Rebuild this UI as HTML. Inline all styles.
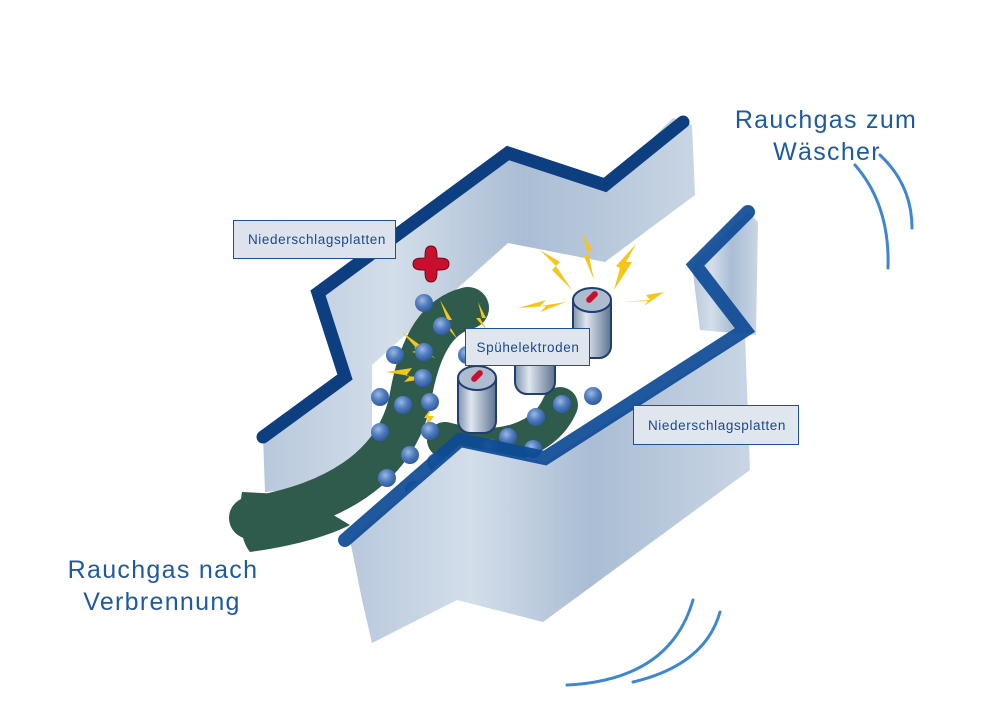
<!DOCTYPE html>
<html><head><meta charset="utf-8"><style>
body{margin:0;background:#fff;width:1000px;height:707px;overflow:hidden}
svg{display:block}
.lbl{font-family:"Liberation Sans",sans-serif;font-size:13.5px;letter-spacing:0.6px;fill:#1a4a8f}
.big{font-family:"Liberation Sans",sans-serif;font-size:25px;letter-spacing:1.3px;fill:#1d5aa0}
</style></head><body>
<svg width="1000" height="707" viewBox="0 0 1000 707" xmlns="http://www.w3.org/2000/svg">
<defs>
<linearGradient id="face" x1="0" x2="1" y1="0" y2="0">
<stop offset="0" stop-color="#b8c8dc"/><stop offset="0.3" stop-color="#d3deea"/><stop offset="0.6" stop-color="#aabdd4"/><stop offset="1" stop-color="#c8d5e4"/></linearGradient>
<radialGradient id="ball" cx="0.4" cy="0.35" r="0.7"><stop offset="0" stop-color="#9cb8e0"/><stop offset="0.5" stop-color="#4f7cc0"/><stop offset="1" stop-color="#2c5598"/></radialGradient>
<linearGradient id="cyl" x1="0" x2="1"><stop offset="0" stop-color="#7f93ad"/><stop offset="0.35" stop-color="#dfe6ef"/><stop offset="1" stop-color="#5d7390"/></linearGradient>
</defs>
<polygon points="263,437 345,377 318,293 508,153 605,185 673,118 692,125 695,195 605,262 508,243 372,365 372,482 265,492" fill="url(#face)"/>
<polyline points="263,437 345,377 318,293 508,153 605,185 683,122" fill="none" stroke="#0d3f80" stroke-width="13" stroke-linejoin="miter" stroke-linecap="round"/>
<polygon points="692,265 748,212 758,222 756,335 700,330" fill="url(#face)"/>
<path d="M250,518 C330,505 395,470 410,400 C420,340 440,315 468,308" fill="none" stroke="#2f5b4c" stroke-width="42" stroke-linecap="round"/>
<path d="M242,492 C238,515 240,540 250,552 C300,545 330,535 350,525 L300,495z" fill="#2f5b4c"/>
<path d="M445,440 C500,455 545,440 560,405" fill="none" stroke="#2f5b4c" stroke-width="36" stroke-linecap="round"/>
<g stroke="#1f3f70" stroke-width="2">
<rect x="515" y="352" width="40" height="42" rx="12" fill="url(#cyl)"/>
<rect x="573" y="290" width="38" height="68" rx="12" fill="url(#cyl)"/>
<ellipse cx="592" cy="300" rx="19" ry="12" fill="#aebcd0"/>
<rect x="458" y="368" width="38" height="65" rx="12" fill="url(#cyl)"/>
<ellipse cx="477" cy="378" rx="19" ry="12" fill="#aebcd0"/>
</g>
<rect x="585" y="294" width="14" height="6" rx="3" fill="#c8102e" transform="rotate(-45 592 297)"/>
<rect x="470" y="373" width="14" height="6" rx="3" fill="#c8102e" transform="rotate(-45 477 376)"/>
<g fill="#f5c518">
<polygon points="582,232 592,250 588,252 594,280 584,256 588,254"/>
<polygon points="540,250 560,262 556,266 572,290 552,270 556,266"/>
<polygon points="636,244 626,262 632,262 614,290 620,268 616,266"/>
<polygon points="518,308 546,300 540,306 566,302 540,312 546,306"/>
<polygon points="620,302 650,300 646,295 664,292 644,306 648,301"/>
<polygon points="440,300 452,320 446,320 458,340 444,324 448,322"/>
<polygon points="402,332 420,345 414,348 436,358 412,352 418,350"/>
<polygon points="386,372 412,368 406,376 430,378 404,382 410,376"/>
<polygon points="438,398 428,416 434,416 420,438 428,418 424,418"/>
<polygon points="478,302 486,318 480,318 488,332 476,318 482,318"/>
</g>
<g fill="url(#ball)">
<circle cx="424" cy="303" r="9"/><circle cx="442" cy="326" r="9"/><circle cx="467" cy="355" r="9"/>
<circle cx="395" cy="355" r="9"/><circle cx="424" cy="352" r="9"/><circle cx="423" cy="378" r="9"/>
<circle cx="380" cy="397" r="9"/><circle cx="403" cy="405" r="9"/><circle cx="430" cy="402" r="9"/>
<circle cx="380" cy="432" r="9"/><circle cx="410" cy="455" r="9"/><circle cx="436" cy="462" r="9"/>
<circle cx="387" cy="478" r="9"/><circle cx="414" cy="490" r="9"/><circle cx="430" cy="431" r="9"/>
<circle cx="593" cy="396" r="9"/><circle cx="562" cy="404" r="9"/><circle cx="536" cy="417" r="9"/>
<circle cx="508" cy="437" r="9"/><circle cx="490" cy="448" r="9"/><circle cx="533" cy="449" r="9"/>
</g>
<polygon points="350,540 460,445 545,462 745,335 750,470 543,622 457,600 372,643 362,600" fill="url(#face)"/>
<polyline points="748,212 695,265 745,330 545,458 460,440 345,540" fill="none" stroke="#0d4a95" stroke-width="14" stroke-linejoin="miter" stroke-linecap="round" opacity="0.92"/>
<path d="M431,246 c6,0 6,6 6,12 c6,0 12,0 12,6 c0,6 -6,6 -12,6 c0,6 0,12 -6,12 c-6,0 -6,-6 -6,-12 c-6,0 -12,0 -12,-6 c0,-6 6,-6 12,-6 c0,-6 0,-12 6,-12z" fill="#c8102e" stroke="#6d0a18" stroke-width="1"/>
<rect x="233.5" y="220.5" width="162" height="38" fill="#dce3ec" stroke="#1f4f95"/>
<text class="lbl" x="317" y="244" text-anchor="middle">Niederschlagsplatten</text>
<rect x="465.5" y="328.5" width="124" height="37" fill="#dfe6ee" stroke="#1f4f95"/>
<text class="lbl" x="528" y="352" text-anchor="middle">Spühelektroden</text>
<rect x="633.5" y="405.5" width="165" height="39" fill="#dfe6ee" stroke="#1f4f95"/>
<text class="lbl" x="717" y="430" text-anchor="middle">Niederschlagsplatten</text>
<text class="big" x="826" y="128" text-anchor="middle">Rauchgas zum</text>
<text class="big" x="827" y="160" text-anchor="middle">Wäscher</text>
<text class="big" x="163" y="578" text-anchor="middle">Rauchgas nach</text>
<text class="big" x="162" y="610" text-anchor="middle">Verbrennung</text>
<g fill="none" stroke="#3d86d4" stroke-width="3" stroke-linecap="round">
<path d="M855,165 Q890,205 888,268"/>
<path d="M880,155 Q912,185 912,228"/>
<path d="M567,685 Q670,680 693,600"/>
<path d="M633,682 Q705,665 720,612"/>
</g>
</svg>
</body></html>
